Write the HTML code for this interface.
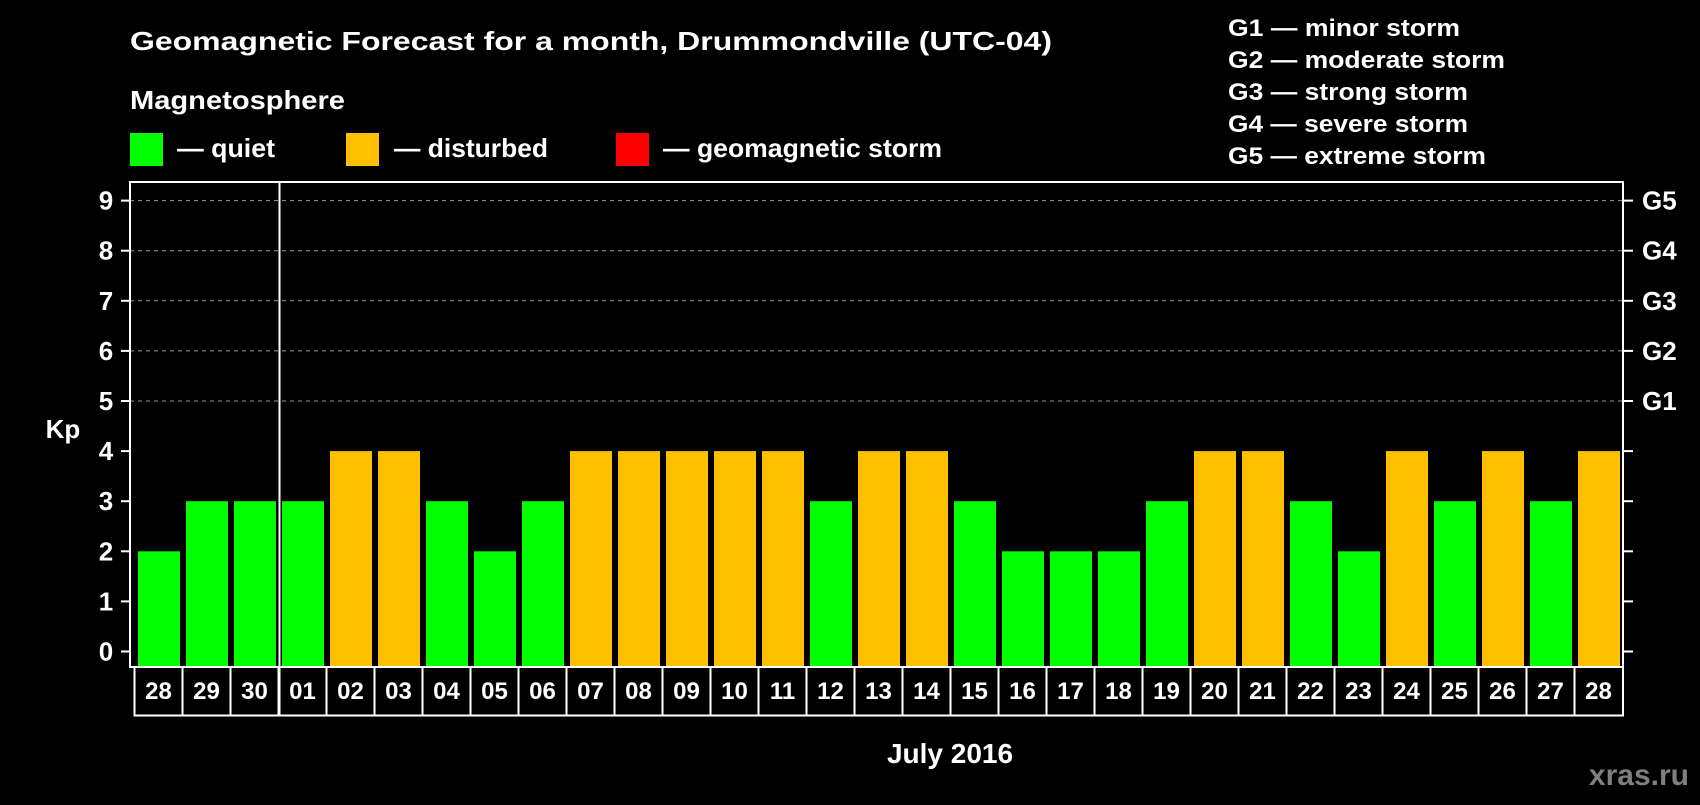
<!DOCTYPE html>
<html><head><meta charset="utf-8"><style>
body{margin:0;background:#000;width:1700px;height:800px;overflow:hidden}
svg text{font-family:"Liberation Sans",sans-serif;font-weight:bold;fill:#fff}
</style></head><body>
<svg id="chart" width="1700" height="800" xmlns="http://www.w3.org/2000/svg">
<rect width="1700" height="800" fill="#000"/>
<text x="130" y="50" font-size="26" textLength="922" lengthAdjust="spacingAndGlyphs">Geomagnetic Forecast for a month, Drummondville (UTC-04)</text>
<text x="130" y="109" font-size="26" textLength="215" lengthAdjust="spacingAndGlyphs">Magnetosphere</text>
<g><rect x="130" y="133" width="33" height="33" fill="#00ff00"/><text x="177" y="157" font-size="26" textLength="98" lengthAdjust="spacingAndGlyphs">— quiet</text></g>
<g><rect x="346" y="133" width="33" height="33" fill="#ffc000"/><text x="394" y="157" font-size="26" textLength="154" lengthAdjust="spacingAndGlyphs">— disturbed</text></g>
<g><rect x="616" y="133" width="33" height="33" fill="#ff0000"/><text x="663" y="157" font-size="26" textLength="279" lengthAdjust="spacingAndGlyphs">— geomagnetic storm</text></g>
<g font-size="24">
<text x="1228" y="36" textLength="232" lengthAdjust="spacingAndGlyphs">G1 — minor storm</text>
<text x="1228" y="68" textLength="277" lengthAdjust="spacingAndGlyphs">G2 — moderate storm</text>
<text x="1228" y="100" textLength="240" lengthAdjust="spacingAndGlyphs">G3 — strong storm</text>
<text x="1228" y="132" textLength="240" lengthAdjust="spacingAndGlyphs">G4 — severe storm</text>
<text x="1228" y="164" textLength="258" lengthAdjust="spacingAndGlyphs">G5 — extreme storm</text>
</g>
<g id="grid"></g><g id="bars"></g><g id="axes"></g>
<text x="63" y="438" font-size="26" text-anchor="middle">Kp</text>
<text x="950" y="763" font-size="28" text-anchor="middle">July 2016</text>
<text x="1689" y="785" font-size="30" text-anchor="end" style="fill:#7f7f7f">xras.ru</text>
</svg>
<script>
const days=["28","29","30","01","02","03","04","05","06","07","08","09","10","11","12","13","14","15","16","17","18","19","20","21","22","23","24","25","26","27","28"];
const kp=[2,3,3,3,4,4,3,2,3,4,4,4,4,4,3,4,4,3,2,2,2,3,4,4,3,2,4,3,4,3,4];
const yTicks=[0,1,2,3,4,5,6,7,8,9];
const gLabels=["G1","G2","G3","G4","G5"];
const NS="http://www.w3.org/2000/svg";
const L=130,R=1623,T=182,B=667,y0=651.5,unit=50.1,x0=138,step=48,bw=42;
const y=v=>y0-v*unit, x=i=>x0+i*step;
function mk(tag,attrs,parent,txt){const e=document.createElementNS(NS,tag);for(const k in attrs)e.setAttribute(k,attrs[k]);if(txt!==undefined)e.textContent=txt;parent.appendChild(e);return e;}
const grid=document.getElementById('grid'),bars=document.getElementById('bars'),axes=document.getElementById('axes');
yTicks.forEach(v=>{
 if(v>=5){const g=mk('line',{x1:L,x2:R,y1:y(v),y2:y(v),stroke:'#999','stroke-dasharray':'4,4','stroke-width':1},grid);
 
 }
 const t=mk('line',{x1:L-9,x2:L,y1:y(v),y2:y(v),stroke:'#fff','stroke-width':2},axes);
 
 
 const t2=mk('line',{x1:R,x2:R+10,y1:y(v),y2:y(v),stroke:'#fff','stroke-width':2},axes);
 
 
 const lb=mk('text',{x:106,y:y(v)+9,'font-size':26,'text-anchor':'middle'},axes,String(v));
 
 
});
gLabels.forEach((g,i)=>{
 const lb=mk('text',{x:1642,y:y(5+i)+9,'font-size':26},axes,g);
 
 
});
kp.forEach((v,i)=>{
 const c=v>=5?'#ff0000':(v>=4?'#ffc000':'#00ff00');
 const b=mk('rect',{x:x(i),y:y(v),width:bw,height:B-y(v),fill:c},bars);
 
 
});
const fr=mk('rect',{x:L,y:T,width:R-L,height:B-T,fill:'none',stroke:'#fff','stroke-width':2},axes);


const bx=mk('rect',{x:134.5,y:B,width:R-134.5,height:48.5,fill:'#000',stroke:'#fff','stroke-width':2},axes);


days.forEach((d,i)=>{
 const cx=134.5+i*step;
 if(i>0){const s=mk('line',{x1:cx,x2:cx,y1:B,y2:B+48.5,stroke:'#fff','stroke-width':2},axes);
 
 }
 const t=mk('text',{x:cx+step/2,y:B+32,'font-size':24,'text-anchor':'middle'},axes,d);
 
 
});
const ml=mk('line',{x1:279.5,x2:279.5,y1:T,y2:B+48.5,stroke:'#fff','stroke-width':2},axes);


</script>
</body></html>
